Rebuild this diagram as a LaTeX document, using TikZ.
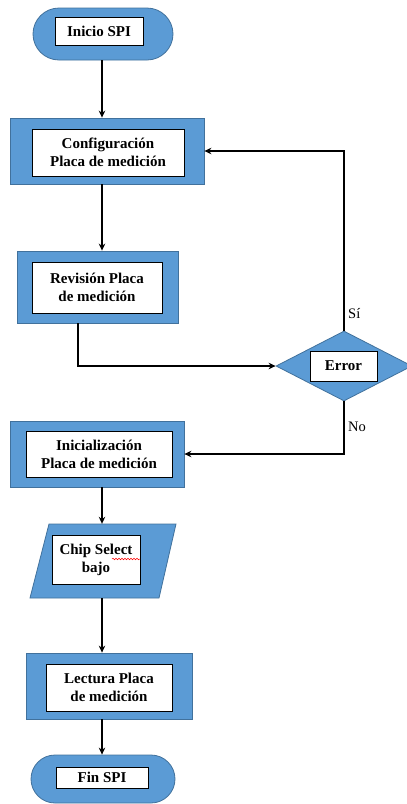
\documentclass[tikz,border=0pt]{standalone}
\usepackage{fontspec}
\setmainfont{Liberation Serif}
\usetikzlibrary{arrows.meta,shapes.geometric,decorations.pathmorphing}
\definecolor{boxblue}{HTML}{5B9BD5}
\definecolor{boxedge}{HTML}{41719C}
\begin{document}
\begin{tikzpicture}[x=1pt,y=-1pt,
  outer/.style={draw=boxedge,fill=boxblue,line width=0.8pt,inner sep=0pt},
  procbox/.style={outer,rectangle},
  termbox/.style={outer,rectangle,rounded corners=#1},
  inner/.style={draw=black,fill=white,line width=0.7pt,inner sep=0pt,align=center,
    font=\fontsize{15}{18}\selectfont\bfseries},
  conn/.style={draw=black,line width=1.3pt,-{Stealth[length=7pt,width=6.5pt]}},
  lbl/.style={font=\fontsize{14.5}{17}\selectfont,inner sep=0pt,anchor=west}]
\useasboundingbox (0,0) rectangle (407,804);
\coordinate (sp) at (102,0);
\coordinate (rv) at (78,0);
% outer shapes
\node[termbox=26pt,minimum width=140pt,minimum height=52pt] (inicio) at (103,34) {};
\node[procbox,minimum width=194pt,minimum height=66pt] (config) at (107,151) {};
\node[procbox,minimum width=161pt,minimum height=72pt] (revision) at (97.5,287) {};
\node[outer,diamond,minimum width=136pt,minimum height=70pt] (error) at (344,366) {};
\node[procbox,minimum width=174pt,minimum height=66pt] (init) at (97,454) {};
\node[inner sep=0pt,minimum width=128pt,minimum height=74pt] (chip) at (103.5,561) {};
\fill[boxblue,draw=boxedge,line width=0.8pt] (49,524) -- (176,524) -- (159,598) -- (30,598) -- cycle;
\node[procbox,minimum width=166pt,minimum height=66pt] (lectura) at (109,686) {};
\node[termbox=24pt,minimum width=144pt,minimum height=48pt] (fin) at (103,779) {};
% inner text boxes
\node[inner,minimum width=88pt,minimum height=28pt] (inicioT) at (99,31) {Inicio SPI};
\node[inner,minimum width=152pt,minimum height=47pt] (configT) at (108,152.5) {Configuración\\Placa de medición};
\node[inner,minimum width=130pt,minimum height=51pt] (revisionT) at (97,287.5) {Revisión Placa\\de medición};
\node[inner,minimum width=67pt,minimum height=30pt] (errorT) at (343.5,366) {Error};
\node[inner,minimum width=146pt,minimum height=46pt] (initT) at (99,454) {Inicialización\\Placa de medición};
\node[inner,minimum width=88pt,minimum height=49pt] (chipT) at (96,559.5) {Chip Select\\bajo};
\draw[red,line width=0.5pt,decorate,decoration={snake,amplitude=0.8pt,segment length=3pt}] (112,559) -- (140,559);
\node[inner,minimum width=126pt,minimum height=47pt] (lecturaT) at (109,687.5) {Lectura Placa\\de medición};
\node[inner,minimum width=92pt,minimum height=21pt] (finT) at (102,777.5) {Fin SPI};
% connectors
\draw[conn] (inicio.south -| sp) -- (config.north -| sp);
\draw[conn] (config.south -| sp) -- (revision.north -| sp);
\draw[conn] (revision.south -| rv) |- (error.west);
\draw[conn] (error.north) |- (config.east);
\draw[conn] (error.south) |- (init.east);
\draw[conn] (init.south -| sp) -- (chip.north -| sp);
\draw[conn] (chip.south -| sp) -- (lectura.north -| sp);
\draw[conn] (lectura.south -| sp) -- (fin.north -| sp);
% labels
\node[lbl] (si) at (348,314) {Sí};
\node[lbl] (no) at (348,427) {No};
\end{tikzpicture}
\end{document}
